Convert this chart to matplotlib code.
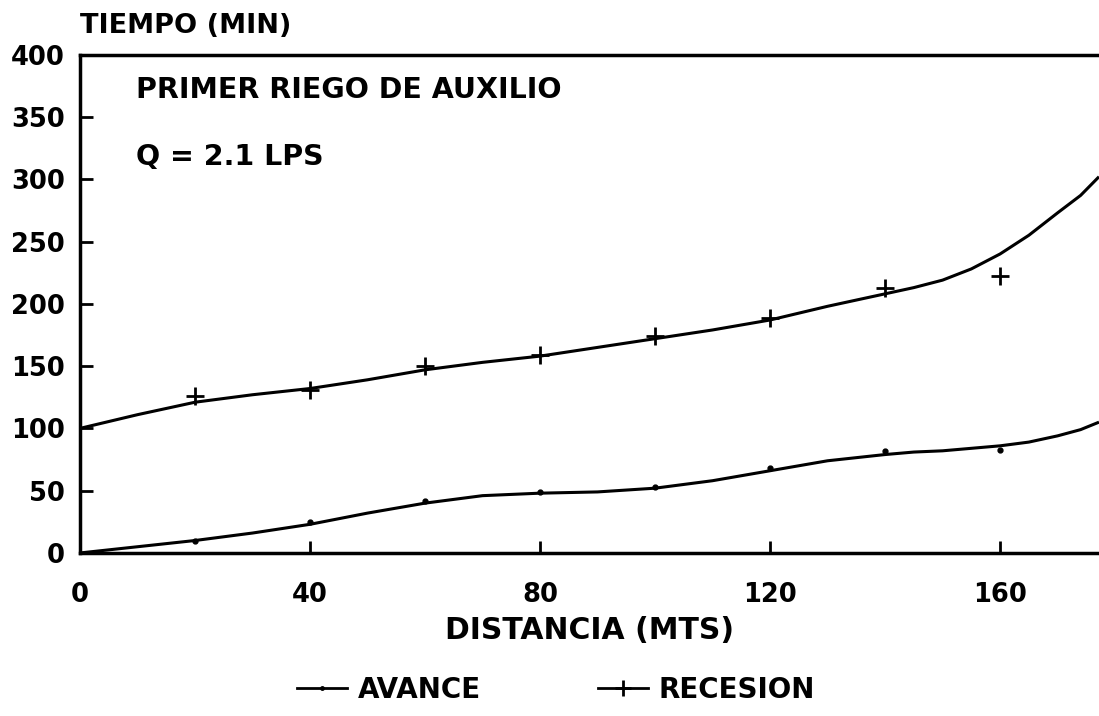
import matplotlib
matplotlib.use("Agg")
import matplotlib.pyplot as plt
from matplotlib.lines import Line2D

# Fitted curves (distance in m, time in min)
curve_x = [0, 10, 20, 30, 40, 50, 60, 70, 80, 90, 100, 110, 120, 130, 140,
           145, 150, 155, 160, 165, 170, 174, 177.2]
avance_curve = [0, 5, 10, 16, 23, 32, 40, 46, 48, 49, 52, 58, 66, 74, 79,
                81, 82, 84, 86, 89, 94, 99, 105]
recesion_curve = [100, 111, 121, 127, 132, 139, 147, 153, 158, 165, 172, 179,
                  187, 198, 208, 213, 219, 228, 240, 255, 273, 287, 302]

# Observed points
obs_x = [20, 40, 60, 80, 100, 120, 140, 160]
avance_obs = [10, 25, 42, 49, 53, 68, 82, 83]
recesion_obs = [126, 131, 150, 159, 174, 189, 213, 222]

x_ticks = [0, 40, 80, 120, 160]
y_ticks = [0, 50, 100, 150, 200, 250, 300, 350, 400]

plt.rcParams['font.family'] = ['DejaVu Sans']
plt.rcParams['font.weight'] = 'bold'

fig = plt.figure(figsize=(10.99, 7.16), dpi=100)
ax = fig.add_axes([0.0728, 0.2277, 0.9272, 0.696])

ax.plot(curve_x, avance_curve, color='black', lw=2.2, solid_capstyle='butt')
ax.plot(curve_x, recesion_curve, color='black', lw=2.2, solid_capstyle='butt')
ax.plot(obs_x, avance_obs, linestyle='none', marker='o', ms=3.5, color='black')
ax.plot(obs_x, recesion_obs, linestyle='none', marker='+', ms=13, mew=2, color='black')

ax.set_xlim(0, 177.2)
ax.set_ylim(0, 400)
ax.set_xticks(x_ticks)
ax.set_yticks(y_ticks)
ax.tick_params(axis='both', direction='in', length=9, width=2, labelsize=18.5)
ax.tick_params(axis='y', pad=11)
ax.tick_params(axis='x', pad=21)
for lbl in ax.get_xticklabels() + ax.get_yticklabels():
    lbl.set_fontweight('bold')

for side in ('left', 'bottom', 'top'):
    ax.spines[side].set_linewidth(2.5)
ax.spines['right'].set_visible(False)

ax.set_xlabel('DISTANCIA (MTS)', fontsize=21.5, fontweight='bold', labelpad=6)
fig.text(0.073, 0.945, 'TIEMPO (MIN)', fontsize=19.5, fontweight='bold',
         ha='left', va='bottom')

ax.text(0.055, 0.93, 'PRIMER RIEGO DE AUXILIO', transform=ax.transAxes,
        fontsize=20.5, fontweight='bold', ha='left', va='center')
ax.text(0.055, 0.794, 'Q = 2.1 LPS', transform=ax.transAxes,
        fontsize=20.5, fontweight='bold', ha='left', va='center')

handles = [
    Line2D([], [], color='black', lw=2, marker='o', ms=2.5),
    Line2D([], [], color='black', lw=2, marker='+', ms=12, mew=2),
]
fig.legend(handles, ['AVANCE', 'RECESION'], loc='center', ncol=2,
           bbox_to_anchor=(0.506, 0.037), frameon=False,
           prop={'weight': 'bold', 'size': 20}, handlelength=1.8,
           columnspacing=4.2, handletextpad=0.4)

fig.savefig('out.png', dpi=100)
